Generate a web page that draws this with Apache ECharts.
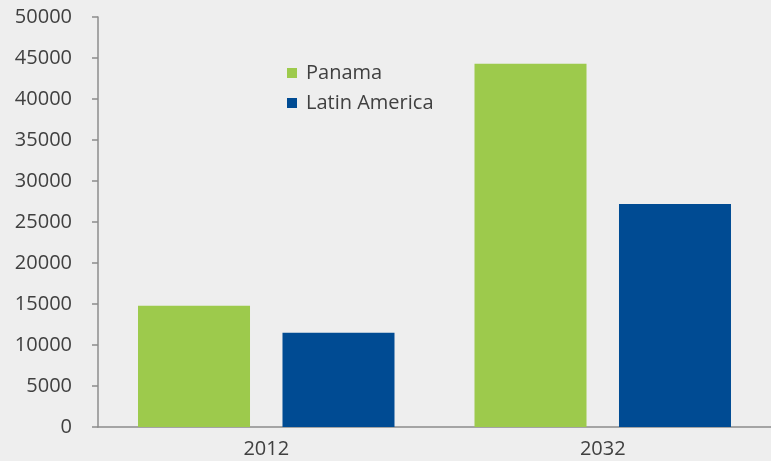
<!DOCTYPE html>
<html>
<head>
<meta charset="utf-8">
<script src="https://cdn.jsdelivr.net/npm/echarts@6/dist/echarts.min.js"></script>
<style>
html,body{margin:0;padding:0;background:#eeeeee;}
#chart{width:771px;height:461px;}
</style>
</head>
<body>
<div id="chart"></div>
<script>
const categories = ['2012', '2032'];
const panama = [14800, 44300];
const latinAmerica = [11500, 27200];
const seriesNames = ['Panama', 'Latin America'];

const chart = echarts.init(document.getElementById('chart'));
const font = '"Open Sans", sans-serif';
chart.setOption({
  backgroundColor: '#eeeeee',
  animation: false,
  grid: { left: 98, right: -4, top: 17, bottom: 34, containLabel: false },
  legend: {
    orient: 'vertical',
    left: 282,
    top: 58,
    itemWidth: 10,
    itemHeight: 10,
    itemGap: 10,
    icon: 'rect',
    textStyle: { fontFamily: font, fontSize: 20, color: '#404040', padding: [0, 0, 0, 4] },
    data: seriesNames
  },
  xAxis: {
    type: 'category',
    data: categories,
    axisLine: { show: true, lineStyle: { color: '#8c8c8c', width: 1.5 } },
    axisTick: { show: false },
    axisLabel: { fontFamily: font, fontSize: 20, color: '#404040', margin: 12 }
  },
  yAxis: {
    type: 'value',
    min: 0,
    max: 50000,
    interval: 5000,
    axisLine: { show: true, lineStyle: { color: '#8c8c8c', width: 1.5 } },
    axisTick: { show: true, length: 6, lineStyle: { color: '#8c8c8c', width: 1.5 } },
    splitLine: { show: false },
    axisLabel: { fontFamily: font, fontSize: 20, color: '#404040', margin: 26, formatter: v => String(v) }
  },
  series: [
    {
      name: seriesNames[0], type: 'bar', data: panama,
      barWidth: 112, barGap: '29%',
      itemStyle: { color: '#9dca4c' }
    },
    {
      name: seriesNames[1], type: 'bar', data: latinAmerica,
      barWidth: 112,
      itemStyle: { color: '#004b93' }
    }
  ]
});
</script>
</body>
</html>
